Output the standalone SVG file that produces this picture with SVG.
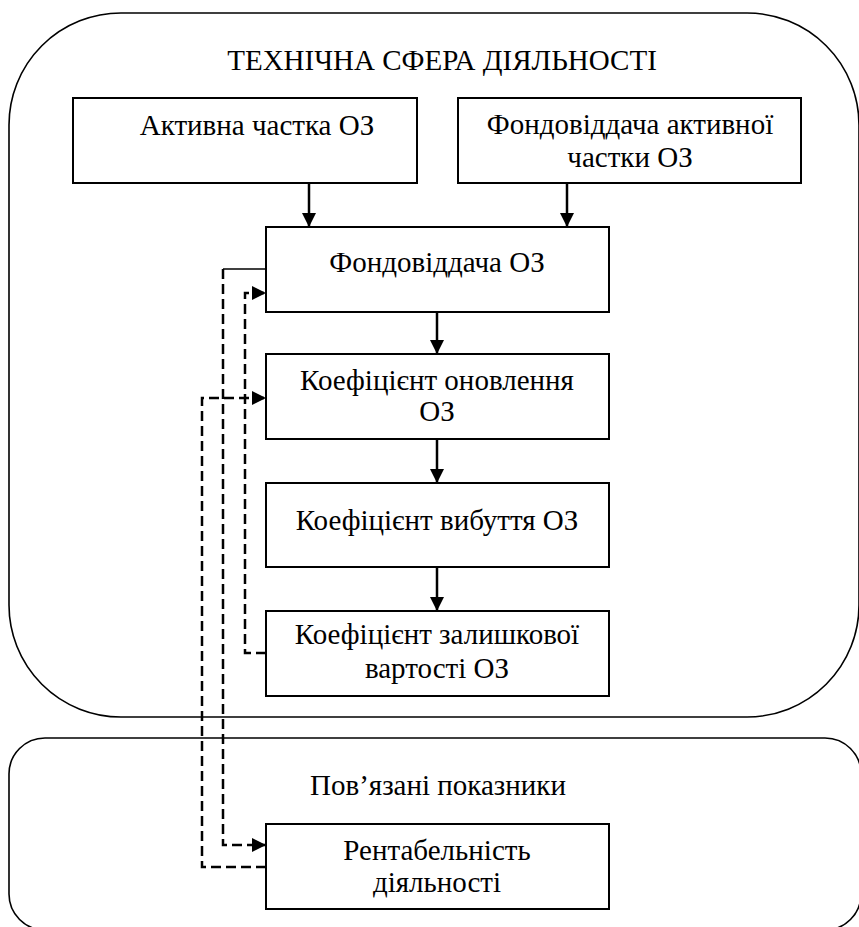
<svg xmlns="http://www.w3.org/2000/svg" width="859" height="927" viewBox="0 0 859 927">
<style>
.area{fill:none;stroke:#000;stroke-width:1.6}
.box{fill:#fff;stroke:#000;stroke-width:2}
.t{font-family:"Liberation Serif","DejaVu Serif",serif;font-size:29px;fill:#000;text-anchor:middle}
.solid{fill:none;stroke:#000;stroke-width:2.5}
.thin{fill:none;stroke:#000;stroke-width:1.5}
.dash{fill:none;stroke:#000;stroke-width:2.5;stroke-dasharray:10 5}
</style>
<defs>
<marker id="ah" viewBox="0 0 14 14" refX="14" refY="7" markerWidth="14" markerHeight="14" markerUnits="userSpaceOnUse" orient="auto">
<path d="M0,0 L14,7 L0,14 Z" fill="#000"/>
</marker>
</defs>
<g id="area-tech">
<rect class="area" x="9" y="13" width="850" height="704" rx="112" ry="112"/>
<text class="t" x="442" y="70">ТЕХНІЧНА СФЕРА ДІЯЛЬНОСТІ</text>
</g>
<g id="area-related">
<rect class="area" x="9" y="738" width="852" height="192" rx="36" ry="36"/>
<text class="t" x="438" y="795">Пов’язані показники</text>
</g>
<g id="n1">
<rect class="box" x="73" y="98" width="344" height="85"/>
<text class="t" x="257" y="135">Активна частка ОЗ</text>
</g>
<g id="n2">
<rect class="box" x="458" y="98" width="343" height="85"/>
<text class="t" x="630" y="134">Фондовіддача активної</text>
<text class="t" x="630" y="167">частки ОЗ</text>
</g>
<g id="n3">
<rect class="box" x="266" y="227" width="343" height="85"/>
<text class="t" x="437" y="272">Фондовіддача ОЗ</text>
</g>
<g id="n4">
<rect class="box" x="266" y="354" width="343" height="85"/>
<text class="t" x="437" y="390">Коефіцієнт оновлення</text>
<text class="t" x="437" y="421">ОЗ</text>
</g>
<g id="n5">
<rect class="box" x="266" y="483" width="343" height="84"/>
<text class="t" x="437" y="530">Коефіцієнт вибуття ОЗ</text>
</g>
<g id="n6">
<rect class="box" x="266" y="611" width="343" height="85"/>
<text class="t" x="437" y="644">Коефіцієнт залишкової</text>
<text class="t" x="437" y="678">вартості ОЗ</text>
</g>
<g id="n7">
<rect class="box" x="266" y="824" width="343" height="85"/>
<text class="t" x="437" y="860">Рентабельність</text>
<text class="t" x="437" y="892">діяльності</text>
</g>
<g id="connectors">
<line class="solid" x1="309" y1="183" x2="309" y2="227" marker-end="url(#ah)"/>
<line class="solid" x1="567" y1="183" x2="567" y2="227" marker-end="url(#ah)"/>
<line class="solid" x1="437" y1="312" x2="437" y2="354" marker-end="url(#ah)"/>
<line class="solid" x1="437" y1="439" x2="437" y2="483" marker-end="url(#ah)"/>
<line class="solid" x1="437" y1="567" x2="437" y2="611" marker-end="url(#ah)"/>
<line class="thin" x1="266" y1="269" x2="223" y2="269"/>
<polyline class="dash" points="223,269 223,845 266,845" marker-end="url(#ah)"/>
<polyline class="dash" points="266,653 245,653 245,293 266,293" marker-end="url(#ah)"/>
<polyline class="dash" points="266,867 202,867 202,398 266,398" marker-end="url(#ah)"/>
</g>
</svg>
